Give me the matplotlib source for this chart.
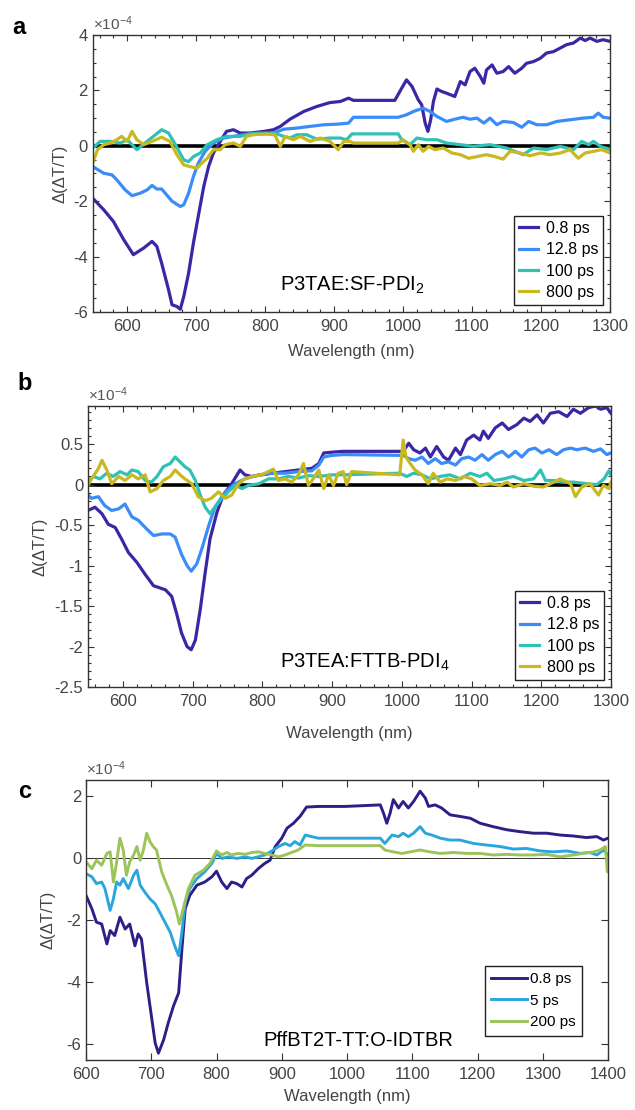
import matplotlib
matplotlib.use("Agg")
import matplotlib.pyplot as plt
from matplotlib.ticker import MultipleLocator, FixedLocator

plt.rcParams['font.family'] = ['Liberation Sans', 'DejaVu Sans']
plt.rcParams['mathtext.fontset'] = 'custom'
plt.rcParams['mathtext.rm'] = 'Liberation Sans'
plt.rcParams['mathtext.it'] = 'Liberation Sans'
plt.rcParams['axes.unicode_minus'] = False

# ---------------- Panel a : P3TAE:SF-PDI2 ----------------
a_wl_08 = [550, 566, 580, 595, 609, 624, 636, 643, 650, 660, 665, 672, 677, 682, 689, 696, 703, 711, 718, 725,
           735, 744, 754, 764, 778, 798, 812, 822, 836, 856, 875, 894, 909, 921, 928, 988, 998, 1005, 1013, 1022,
           1027, 1032, 1036, 1040, 1044, 1049, 1056, 1063, 1075, 1083, 1090, 1097, 1104, 1112, 1117, 1121, 1129,
           1136, 1145, 1153, 1162, 1172, 1179, 1189, 1199, 1208, 1218, 1228, 1237, 1247, 1257, 1264, 1271, 1281,
           1290, 1300]
a_val_08 = [-1.89, -2.31, -2.73, -3.39, -3.93, -3.69, -3.45, -3.63, -4.24, -5.2, -5.74, -5.8, -5.9, -5.44, -4.6,
            -3.51, -2.55, -1.47, -0.75, -0.26, 0.16, 0.52, 0.58, 0.46, 0.46, 0.52, 0.58, 0.7, 0.96, 1.24, 1.42,
            1.56, 1.6, 1.72, 1.64, 1.64, 2.08, 2.38, 2.14, 1.66, 1.48, 0.82, 0.52, 0.94, 1.6, 2.05, 1.96, 1.9, 1.78,
            2.32, 2.2, 2.68, 2.8, 2.5, 2.26, 2.74, 2.92, 2.62, 2.68, 2.86, 2.62, 2.8, 2.98, 3.04, 3.16, 3.35, 3.4,
            3.53, 3.65, 3.71, 3.89, 3.8, 3.89, 3.77, 3.83, 3.77]

a_wl_128 = [550, 566, 578, 585, 597, 607, 619, 629, 636, 643, 650, 665, 677, 682, 689, 696, 703, 713, 725, 740,
            754, 769, 788, 812, 827, 846, 865, 885, 904, 921, 928, 993, 1005, 1015, 1029, 1039, 1049, 1063, 1075,
            1087, 1097, 1107, 1117, 1126, 1136, 1145, 1160, 1172, 1182, 1194, 1208, 1223, 1242, 1261, 1276, 1283,
            1290, 1300]
a_val_128 = [-0.75, -0.99, -1.05, -1.23, -1.59, -1.8, -1.71, -1.59, -1.43, -1.56, -1.56, -2.0, -2.19, -2.13,
             -1.71, -1.11, -0.63, -0.2, 0.1, 0.28, 0.34, 0.4, 0.46, 0.46, 0.6, 0.64, 0.7, 0.76, 0.78, 0.82, 1.03,
             1.03, 1.12, 1.24, 1.36, 1.24, 1.06, 0.88, 0.96, 1.03, 0.96, 1.0, 0.82, 1.0, 0.76, 0.88, 0.84, 0.67,
             0.88, 0.76, 0.76, 0.88, 0.94, 1.0, 1.03, 1.18, 1.03, 1.0]

a_wl_100 = [550, 561, 576, 590, 600, 614, 626, 638, 650, 660, 670, 682, 689, 696, 706, 716, 730, 744, 764, 778,
            798, 817, 827, 836, 846, 860, 875, 894, 909, 918, 926, 993, 998, 1010, 1020, 1034, 1049, 1063, 1083,
            1102, 1126, 1150, 1174, 1189, 1208, 1228, 1247, 1259, 1269, 1276, 1286, 1300]
a_val_100 = [-0.08, 0.16, 0.16, 0.1, 0.22, -0.14, 0.1, 0.34, 0.58, 0.46, 0.04, -0.51, -0.57, -0.39, -0.26, 0.04,
             0.22, 0.34, 0.34, 0.43, 0.43, 0.43, 0.34, 0.28, 0.4, 0.4, 0.24, 0.28, 0.28, 0.22, 0.43, 0.43, 0.22,
             0.04, 0.28, 0.22, 0.22, 0.1, 0.04, -0.02, 0.04, -0.08, -0.32, -0.08, -0.14, -0.02, -0.14, 0.16, 0.04,
             0.16, -0.02, -0.14]

a_wl_800 = [550, 557, 566, 576, 585, 592, 600, 607, 614, 624, 636, 650, 662, 672, 682, 691, 701, 708, 716, 725,
            735, 742, 754, 764, 773, 783, 802, 814, 822, 829, 841, 851, 865, 880, 894, 906, 914, 923, 928, 993,
            1000, 1010, 1015, 1022, 1029, 1037, 1046, 1058, 1071, 1083, 1095, 1107, 1121, 1133, 1145, 1155, 1170,
            1184, 1199, 1213, 1228, 1242, 1254, 1264, 1276, 1288, 1300]
a_val_800 = [-0.63, -0.14, 0.04, 0.1, 0.22, 0.34, 0.16, 0.52, 0.22, 0.04, 0.16, 0.31, 0.16, -0.32, -0.69, -0.75,
             -0.81, -0.63, -0.45, -0.14, -0.14, 0.04, 0.1, -0.02, 0.34, 0.4, 0.43, 0.4, -0.02, 0.34, 0.22, 0.34,
             0.16, 0.28, 0.16, -0.14, 0.16, 0.16, 0.1, 0.1, 0.22, 0.04, -0.2, 0.04, -0.2, -0.02, -0.14, -0.08,
             -0.26, -0.32, -0.45, -0.39, -0.32, -0.39, -0.48, -0.2, -0.26, -0.36, -0.26, -0.32, -0.26, -0.14,
             -0.45, -0.26, -0.2, -0.14, -0.26]

# ---------------- Panel b : P3TEA:FTTB-PDI4 ----------------
b_wl_08 = [550, 560, 570, 579, 589, 598, 608, 620, 632, 644, 651, 661, 670, 677, 684, 692, 698, 704, 711, 718,
           725, 735, 744, 756, 768, 775, 785, 799, 814, 833, 852, 871, 881, 888, 900, 916, 1002, 1010, 1017, 1026,
           1034, 1041, 1050, 1060, 1067, 1077, 1084, 1093, 1103, 1112, 1117, 1124, 1134, 1144, 1153, 1165, 1175,
           1184, 1194, 1203, 1213, 1225, 1237, 1246, 1256, 1268, 1278, 1285, 1294, 1300]
b_val_08 = [-0.32, -0.28, -0.36, -0.49, -0.53, -0.67, -0.84, -0.96, -1.11, -1.25, -1.27, -1.3, -1.38, -1.59,
            -1.83, -2.0, -2.04, -1.92, -1.54, -1.09, -0.67, -0.34, -0.13, 0.01, 0.18, 0.12, 0.1, 0.12, 0.14, 0.16,
            0.18, 0.2, 0.26, 0.39, 0.4, 0.41, 0.41, 0.51, 0.43, 0.39, 0.45, 0.34, 0.47, 0.34, 0.3, 0.45, 0.37,
            0.55, 0.61, 0.55, 0.66, 0.57, 0.7, 0.76, 0.68, 0.74, 0.82, 0.78, 0.86, 0.76, 0.88, 0.9, 0.84, 0.93,
            0.88, 0.95, 0.97, 0.93, 0.95, 0.88]

b_wl_128 = [550, 555, 565, 574, 584, 594, 603, 613, 622, 632, 644, 656, 668, 675, 684, 692, 698, 706, 713, 723,
            732, 747, 761, 775, 795, 814, 833, 852, 871, 881, 888, 900, 916, 1002, 1010, 1019, 1029, 1038, 1048,
            1057, 1067, 1077, 1086, 1096, 1105, 1115, 1124, 1134, 1144, 1153, 1163, 1172, 1182, 1191, 1201, 1211,
            1222, 1232, 1242, 1251, 1263, 1275, 1285, 1294, 1300]
b_val_128 = [-0.13, -0.17, -0.15, -0.26, -0.32, -0.3, -0.24, -0.4, -0.44, -0.53, -0.63, -0.61, -0.61, -0.65,
             -0.86, -1.0, -1.07, -0.98, -0.8, -0.51, -0.28, -0.09, 0.01, 0.07, 0.12, 0.14, 0.14, 0.16, 0.17, 0.24,
             0.34, 0.36, 0.37, 0.36, 0.32, 0.3, 0.34, 0.26, 0.32, 0.26, 0.28, 0.24, 0.32, 0.34, 0.3, 0.37, 0.3,
             0.37, 0.41, 0.34, 0.41, 0.34, 0.43, 0.45, 0.39, 0.43, 0.37, 0.43, 0.45, 0.43, 0.45, 0.41, 0.44, 0.37,
             0.39]

b_wl_100 = [550, 558, 567, 577, 586, 596, 606, 613, 622, 632, 641, 649, 658, 668, 675, 682, 689, 696, 704, 711,
            718, 725, 732, 742, 751, 761, 771, 780, 795, 809, 823, 837, 852, 866, 881, 900, 916, 997, 1007, 1017,
            1029, 1041, 1055, 1069, 1084, 1098, 1112, 1122, 1132, 1146, 1160, 1175, 1189, 1199, 1206, 1218, 1232,
            1246, 1266, 1280, 1290, 1297, 1300]
b_val_100 = [0.05, 0.1, 0.07, 0.14, 0.1, 0.16, 0.12, 0.18, 0.16, 0.05, 0.03, 0.1, 0.22, 0.26, 0.34, 0.28, 0.22,
             0.18, 0.05, -0.13, -0.28, -0.36, -0.28, -0.17, -0.09, -0.01, -0.05, -0.01, 0.01, 0.07, 0.07, 0.1,
             0.08, 0.11, 0.1, 0.12, 0.12, 0.14, 0.1, 0.14, 0.12, 0.07, 0.1, 0.12, 0.07, 0.14, 0.1, 0.14, 0.05,
             0.07, 0.1, 0.05, 0.07, 0.18, 0.05, 0.05, 0.03, 0.03, 0.01, 0.0, 0.07, 0.17, 0.12]

b_wl_800 = [550, 555, 565, 570, 577, 584, 594, 603, 613, 622, 632, 639, 649, 658, 668, 675, 682, 689, 699, 708,
            718, 727, 737, 747, 756, 766, 775, 785, 799, 816, 823, 833, 842, 852, 859, 866, 873, 881, 888, 895,
            902, 909, 916, 921, 928, 997, 1002, 1006, 1012, 1019, 1029, 1038, 1045, 1055, 1065, 1077, 1089, 1100,
            1112, 1127, 1141, 1151, 1160, 1175, 1189, 1203, 1218, 1227, 1242, 1249, 1258, 1270, 1282, 1289, 1297,
            1300]
b_val_800 = [-0.01, 0.07, 0.2, 0.3, 0.18, 0.01, 0.1, 0.05, 0.12, 0.07, 0.12, -0.09, -0.05, 0.05, 0.1, 0.18,
             0.12, 0.07, 0.01, -0.15, -0.2, -0.17, -0.09, -0.17, -0.13, 0.01, 0.07, 0.1, 0.12, 0.19, 0.05, 0.07,
             0.03, 0.12, 0.26, -0.01, 0.07, 0.18, -0.05, 0.12, -0.01, 0.14, 0.16, 0.0, 0.16, 0.12, 0.55, 0.34,
             0.26, 0.18, 0.12, 0.01, 0.14, 0.03, 0.07, 0.05, 0.1, 0.07, -0.01, 0.01, -0.01, 0.03, -0.03, 0.01,
             -0.02, -0.03, 0.03, 0.07, 0.01, -0.15, -0.03, 0.01, -0.13, -0.01, -0.05, 0.03]

# ---------------- Panel c : PffBT2T-TT:O-IDTBR ----------------
c_wl_08 = [600, 609, 616, 624, 632, 637, 644, 652, 660, 667, 675, 680, 685, 693, 701, 706, 711, 719, 726, 734,
           742, 747, 752, 759, 770, 782, 793, 800, 808, 816, 823, 831, 839, 846, 854, 864, 874, 882, 890, 900,
           908, 918, 928, 938, 956, 997, 1051, 1056, 1061, 1066, 1071, 1079, 1086, 1094, 1102, 1112, 1120, 1125,
           1135, 1145, 1158, 1173, 1189, 1204, 1224, 1245, 1265, 1286, 1306, 1327, 1347, 1367, 1383, 1393, 1400]
c_val_08 = [-1.21, -1.64, -2.07, -2.13, -2.77, -2.34, -2.5, -1.91, -2.29, -2.13, -2.83, -2.45, -2.61, -4.01,
            -5.2, -5.95, -6.28, -5.85, -5.31, -4.77, -4.34, -2.93, -1.64, -1.21, -0.88, -0.78, -0.61, -0.43,
            -0.78, -0.99, -0.78, -0.83, -0.94, -0.67, -0.56, -0.35, -0.18, -0.08, 0.36, 0.63, 0.95, 1.11, 1.33,
            1.63, 1.65, 1.65, 1.7, 1.43, 1.11, 1.43, 1.87, 1.6, 1.81, 1.6, 1.81, 2.14, 1.92, 1.65, 1.7, 1.6, 1.38,
            1.33, 1.27, 1.11, 1.0, 0.9, 0.84, 0.79, 0.79, 0.73, 0.7, 0.65, 0.68, 0.57, 0.63]

c_wl_5 = [600, 609, 616, 624, 629, 637, 642, 647, 652, 657, 665, 673, 678, 683, 690, 698, 706, 713, 721, 729,
          736, 742, 747, 752, 759, 770, 782, 793, 800, 808, 818, 831, 844, 854, 864, 874, 885, 895, 905, 913, 920,
          928, 936, 956, 1051, 1058, 1069, 1079, 1086, 1094, 1102, 1112, 1120, 1130, 1143, 1158, 1173, 1194, 1214,
          1235, 1255, 1275, 1296, 1316, 1337, 1357, 1372, 1383, 1393, 1400]
c_val_5 = [-0.51, -0.61, -0.83, -0.78, -0.99, -1.69, -1.32, -0.78, -0.88, -0.67, -0.99, -0.56, -0.4, -0.88,
           -1.1, -1.32, -1.48, -1.75, -2.07, -2.39, -2.83, -3.15, -2.39, -1.42, -0.99, -0.67, -0.45, -0.18, 0.14,
           -0.02, 0.03, -0.02, 0.03, -0.02, 0.03, 0.09, 0.22, 0.36, 0.46, 0.39, 0.52, 0.41, 0.73, 0.63, 0.63, 0.46,
           0.73, 0.68, 0.79, 0.68, 0.79, 1.0, 0.79, 0.73, 0.63, 0.57, 0.57, 0.46, 0.41, 0.36, 0.28, 0.3, 0.22,
           0.19, 0.22, 0.14, 0.17, 0.09, 0.25, 0.09]

c_wl_200 = [600, 609, 616, 624, 632, 637, 642, 647, 652, 657, 662, 667, 673, 678, 683, 688, 693, 698, 703, 708,
            716, 724, 731, 739, 743, 749, 757, 767, 780, 790, 800, 808, 816, 823, 833, 844, 854, 864, 874, 885,
            895, 905, 915, 925, 936, 956, 1051, 1058, 1071, 1084, 1097, 1112, 1127, 1143, 1163, 1184, 1204, 1224,
            1245, 1265, 1286, 1306, 1327, 1347, 1362, 1378, 1388, 1396, 1399, 1400]
c_val_200 = [-0.13, -0.35, -0.08, -0.24, 0.14, 0.19, -0.78, -0.13, 0.63, 0.25, -0.56, -0.13, 0.09, 0.36, -0.08,
             0.25, 0.79, 0.52, 0.36, 0.25, -0.45, -0.88, -1.21, -1.75, -2.13, -1.64, -0.99, -0.56, -0.4, -0.18,
             0.22, 0.09, 0.17, 0.09, 0.14, 0.11, 0.17, 0.19, 0.14, 0.09, 0.03, 0.09, 0.17, 0.25, 0.41, 0.39, 0.39,
             0.25, 0.19, 0.14, 0.19, 0.25, 0.19, 0.14, 0.17, 0.14, 0.14, 0.09, 0.11, 0.09, 0.09, 0.11, 0.03, 0.09,
             0.14, 0.19, 0.25, 0.36, -0.45, -0.4]

labels_ab = ['0.8 ps', '12.8 ps', '100 ps', '800 ps']
labels_c = ['0.8 ps', '5 ps', '200 ps']
colors_ab = ['#3b27a6', '#3a8cf8', '#2fc1b3', '#c9b820']
colors_c = ['#2c1f88', '#2ba6dc', '#9cc45a']

W, H = 635, 1110
fig = plt.figure(figsize=(W / 100, H / 100), dpi=100)


def rect(l, r, t, b):
    return [l / W, 1 - b / H, (r - l) / W, (b - t) / H]


TICK_C = '#444444'
FS = 12


def style(ax):
    for s in ax.spines.values():
        s.set_color('#333333')
        s.set_linewidth(1.0)
    ax.tick_params(which='both', direction='in', top=True, right=True, colors='#333333',
                   labelcolor=TICK_C, labelsize=FS, width=0.8)
    ax.tick_params(which='major', length=4.5)
    ax.tick_params(which='minor', length=2.2)
    ax.tick_params(axis='x', pad=5)


# ----- panel a -----
axa = fig.add_axes(rect(92.7, 610, 35, 312))
axa.axhline(0, color='black', lw=2.6, zorder=1)
for wl, v, c, lab in zip([a_wl_08, a_wl_128, a_wl_100, a_wl_800],
                         [a_val_08, a_val_128, a_val_100, a_val_800], colors_ab, labels_ab):
    axa.plot(wl, v, color=c, lw=2.3, label=lab, zorder=2)
axa.set_xlim(550, 1300)
axa.set_ylim(-6, 4)
axa.xaxis.set_major_locator(MultipleLocator(100))
axa.xaxis.set_minor_locator(MultipleLocator(20))
axa.yaxis.set_major_locator(MultipleLocator(2))
axa.yaxis.set_minor_locator(MultipleLocator(0.5))
style(axa)

# ----- panel b -----
axb = fig.add_axes(rect(88, 611, 406, 687))
axb.axhline(0, color='black', lw=2.6, zorder=1)
for wl, v, c, lab in zip([b_wl_08, b_wl_128, b_wl_100, b_wl_800],
                         [b_val_08, b_val_128, b_val_100, b_val_800], colors_ab, labels_ab):
    axb.plot(wl, v, color=c, lw=2.3, label=lab, zorder=2)
axb.set_xlim(550, 1300)
axb.set_ylim(-2.5, 0.97)
axb.xaxis.set_major_locator(MultipleLocator(100))
axb.xaxis.set_minor_locator(MultipleLocator(20))
axb.yaxis.set_major_locator(FixedLocator([-2.5, -2, -1.5, -1, -0.5, 0, 0.5]))
axb.yaxis.set_minor_locator(MultipleLocator(0.1))
axb.set_yticklabels(['-2.5', '-2', '-1.5', '-1', '-0.5', '0', '0.5'])
style(axb)

# ----- panel c -----
axc = fig.add_axes(rect(86, 608, 780, 1060))
axc.axhline(0, color='#333333', lw=0.7, zorder=1)
for wl, v, c, lab in zip([c_wl_08, c_wl_5, c_wl_200],
                         [c_val_08, c_val_5, c_val_200], colors_c, labels_c):
    axc.plot(wl, v, color=c, lw=2.1, label=lab, zorder=2)
axc.set_xlim(600, 1400)
axc.set_ylim(-6.5, 2.5)
axc.xaxis.set_major_locator(MultipleLocator(100))
axc.yaxis.set_major_locator(FixedLocator([-6, -4, -2, 0, 2]))
style(axc)
axc.tick_params(which='major', length=5)

# labels
for ax, xl, lp in [(axa, -0.048, 7), (axb, -0.077, 12), (axc, -0.059, 5)]:
    ax.set_ylabel('Δ(ΔT/T)', fontsize=FS, color=TICK_C)
    ax.yaxis.set_label_coords(xl, 0.5)
    ax.set_xlabel('Wavelength (nm)', fontsize=FS, color=TICK_C, labelpad=lp)

# legends
for ax in (axa, axb):
    leg = ax.legend(loc='lower right', fontsize=11.5, frameon=True, fancybox=False, edgecolor='#222222',
                    handlelength=1.2, handletextpad=0.45, labelspacing=0.4, borderpad=0.3,
                    borderaxespad=0.45, framealpha=1)
    leg.get_frame().set_linewidth(1.0)
leg = axc.legend(loc='lower right', bbox_to_anchor=(0.965, 0.06), fontsize=11, frameon=True, fancybox=False,
                 edgecolor='#222222', handlelength=2.4, handletextpad=0.2, labelspacing=0.5, borderpad=0.4,
                 framealpha=1)
leg.get_frame().set_linewidth(1.0)

# sample annotations
axa.text(0.362, 0.097, 'P3TAE:SF-PDI$_2$', transform=axa.transAxes, fontsize=14.5, ha='left', va='center')
axb.text(0.367, 0.089, 'P3TEA:FTTB-PDI$_4$', transform=axb.transAxes, fontsize=14.5, ha='left', va='center')
axc.text(0.339, 0.068, 'PffBT2T-TT:O-IDTBR', transform=axc.transAxes, fontsize=14.5, ha='left', va='center')

# exponent labels
for ax in (axa, axb, axc):
    ax.text(0.0, 1.008, '×10$^{-4}$', transform=ax.transAxes, fontsize=11, color='#555555',
            ha='left', va='bottom')

# panel letters
fig.text(12 / W, 1 - 27 / H, 'a', fontsize=17, fontweight='bold', ha='left', va='center')
fig.text(17 / W, 1 - 383 / H, 'b', fontsize=17, fontweight='bold', ha='left', va='center')
fig.text(18 / W, 1 - 792 / H, 'c', fontsize=17, fontweight='bold', ha='left', va='center')

fig.savefig('out.png', dpi=100)
